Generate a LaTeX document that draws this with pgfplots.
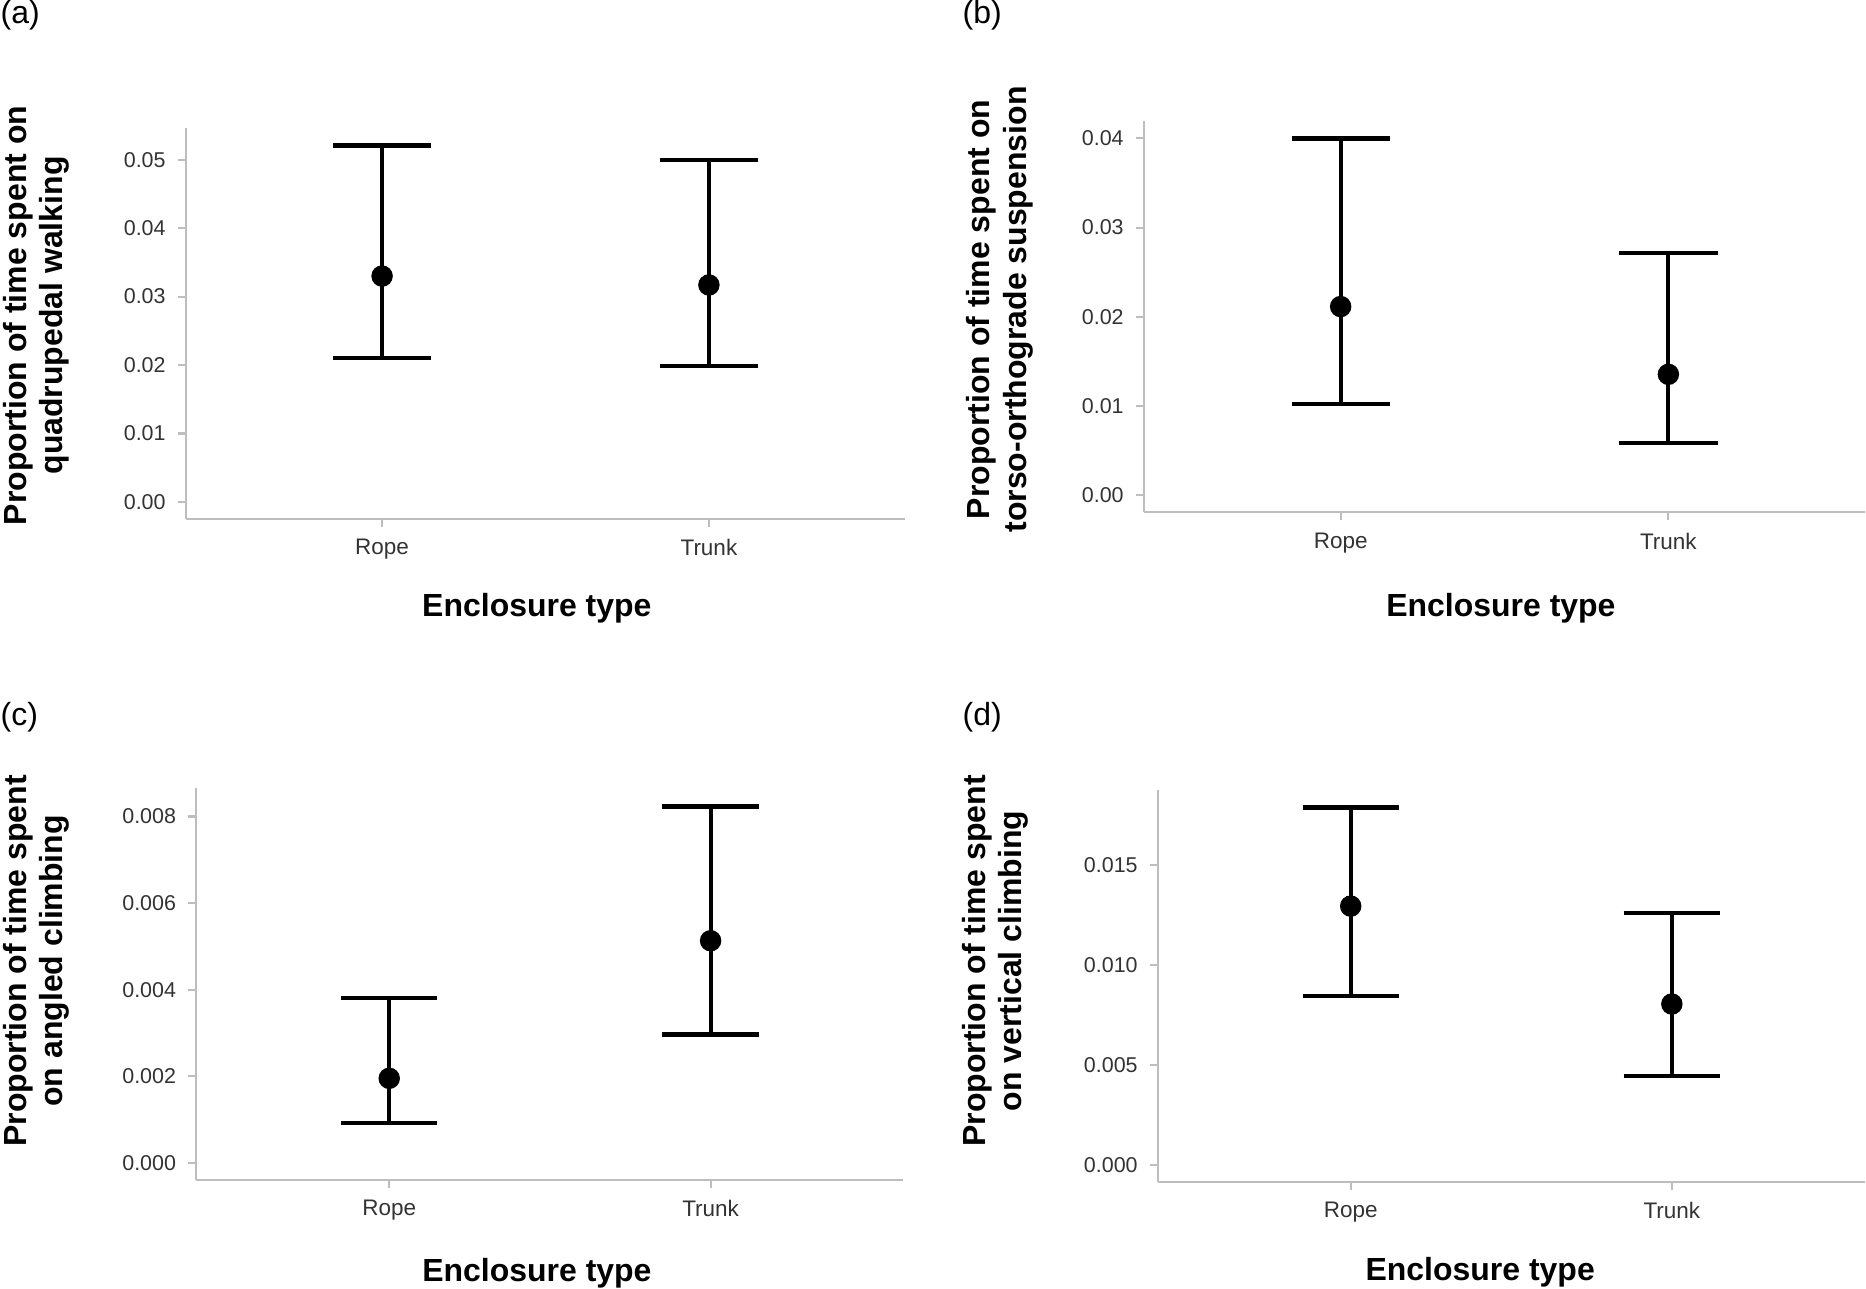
\documentclass[border=0pt]{standalone}
\usepackage{fontspec}
\setmainfont{Liberation Sans}
\usepackage{pgfplots}
\pgfplotsset{compat=1.18}
\definecolor{axgray}{HTML}{BEBEBE}
\definecolor{ticktext}{HTML}{333333}
\pgfplotsset{
  panel/.style={
    scale only axis,
    axis lines=left,
    axis line style={-, draw=axgray, line width=0.6pt},
    xmin=0.4, xmax=2.6,
    xtick={1,2}, xticklabels={Rope,Trunk},
    tick align=outside,
    major tick length=0.08cm,
    tick style={draw=axgray, line width=0.6pt},
    yticklabel style={font=\fontsize{6.1}{7}\selectfont, text=ticktext},
    xticklabel style={font=\fontsize{6.4}{7}\selectfont, text=ticktext},
    scaled y ticks=false,
    label style={font=\fontsize{9.1}{10.3}\selectfont\bfseries, align=center},
    xlabel={Enclosure type},
    clip=false,
  },
  stem/.style={black, line width=1.15pt, forget plot},
  cap/.style={black, line width=1.25pt, forget plot},
  pt/.style={black, only marks, mark=*, mark size=2.85pt, mark options={fill=black, draw=black}, forget plot},
}
\begin{document}
\begin{tikzpicture}
\path[use as bounding box] (0,0) rectangle (18.66cm,12.88cm);

% (a)
\begin{axis}[panel, at={(1.86cm,7.69cm)}, anchor=south west,
  width=7.19cm, height=3.914cm,
  ymin=-0.0025, ymax=0.0547,
  ytick={0,0.01,0.02,0.03,0.04,0.05},
  yticklabels={0.00,0.01,0.02,0.03,0.04,0.05},
  ylabel={Proportion of time spent on\\quadrupedal walking},
  ylabel style={at={(axis description cs:-0.2086,0.52)}, anchor=center},
  xlabel style={at={(axis description cs:0.488,-0.2496)}, anchor=base}]
\addplot[stem] coordinates {(1,0.0210) (1,0.0521)};
\addplot[cap] coordinates {(0.85,0.0521) (1.15,0.0521)};
\addplot[cap] coordinates {(0.85,0.0210) (1.15,0.0210)};
\addplot[pt] coordinates {(1,0.0330)};
\addplot[stem] coordinates {(2,0.0199) (2,0.0500)};
\addplot[cap] coordinates {(1.85,0.0500) (2.15,0.0500)};
\addplot[cap] coordinates {(1.85,0.0199) (2.15,0.0199)};
\addplot[pt] coordinates {(2,0.0317)};
\end{axis}

% (b)
\begin{axis}[panel, at={(11.44cm,7.757cm)}, anchor=south west,
  width=7.21cm, height=3.909cm,
  ymin=-0.0019, ymax=0.0419,
  ytick={0,0.01,0.02,0.03,0.04},
  yticklabels={0.00,0.01,0.02,0.03,0.04},
  ylabel={Proportion of time spent on\\torso-orthograde suspension},
  ylabel style={at={(axis description cs:-0.2,0.519)}, anchor=center},
  xlabel style={at={(axis description cs:0.495,-0.267)}, anchor=base}]
\addplot[stem] coordinates {(1,0.01025) (1,0.0400)};
\addplot[cap] coordinates {(0.85,0.0400) (1.15,0.0400)};
\addplot[cap] coordinates {(0.85,0.01025) (1.15,0.01025)};
\addplot[pt] coordinates {(1,0.02115)};
\addplot[stem] coordinates {(2,0.00589) (2,0.02713)};
\addplot[cap] coordinates {(1.85,0.02713) (2.15,0.02713)};
\addplot[cap] coordinates {(1.85,0.00589) (2.15,0.00589)};
\addplot[pt] coordinates {(2,0.01356)};
\end{axis}

% (c)
\begin{axis}[panel, at={(1.964cm,1.08cm)}, anchor=south west,
  width=7.07cm, height=3.92cm,
  ymin=-0.0004, ymax=0.00866,
  ytick={0,0.002,0.004,0.006,0.008},
  yticklabels={0.000,0.002,0.004,0.006,0.008},
  ylabel={Proportion of time spent\\on angled climbing},
  ylabel style={at={(axis description cs:-0.227,0.559)}, anchor=center},
  xlabel style={at={(axis description cs:0.4816,-0.2577)}, anchor=base}]
\addplot[stem] coordinates {(1,0.00092) (1,0.0038)};
\addplot[cap] coordinates {(0.85,0.0038) (1.15,0.0038)};
\addplot[cap] coordinates {(0.85,0.00092) (1.15,0.00092)};
\addplot[pt] coordinates {(1,0.00195)};
\addplot[stem] coordinates {(2,0.00296) (2,0.00823)};
\addplot[cap] coordinates {(1.85,0.00823) (2.15,0.00823)};
\addplot[cap] coordinates {(1.85,0.00296) (2.15,0.00296)};
\addplot[pt] coordinates {(2,0.00513)};
\end{axis}

% (d)
\begin{axis}[panel, at={(11.58cm,1.06cm)}, anchor=south west,
  width=7.065cm, height=3.92cm,
  ymin=-0.00085, ymax=0.01873,
  ytick={0,0.005,0.010,0.015},
  yticklabels={0.000,0.005,0.010,0.015},
  ylabel={Proportion of time spent\\on vertical climbing},
  ylabel style={at={(axis description cs:-0.23,0.564)}, anchor=center},
  xlabel style={at={(axis description cs:0.456,-0.25)}, anchor=base}]
\addplot[stem] coordinates {(1,0.00845) (1,0.01785)};
\addplot[cap] coordinates {(0.85,0.01785) (1.15,0.01785)};
\addplot[cap] coordinates {(0.85,0.00845) (1.15,0.00845)};
\addplot[pt] coordinates {(1,0.01293)};
\addplot[stem] coordinates {(2,0.00445) (2,0.01258)};
\addplot[cap] coordinates {(1.85,0.01258) (2.15,0.01258)};
\addplot[cap] coordinates {(1.85,0.00445) (2.15,0.00445)};
\addplot[pt] coordinates {(2,0.00804)};
\end{axis}

\node[anchor=north west, inner sep=0pt, font=\fontsize{9.1}{10}\selectfont] at (0cm,12.88cm) {(a)};
\node[anchor=north west, inner sep=0pt, font=\fontsize{9.1}{10}\selectfont] at (9.62cm,12.88cm) {(b)};
\node[anchor=north west, inner sep=0pt, font=\fontsize{9.1}{10}\selectfont] at (0cm,5.86cm) {(c)};
\node[anchor=north west, inner sep=0pt, font=\fontsize{9.1}{10}\selectfont] at (9.62cm,5.86cm) {(d)};
\end{tikzpicture}
\end{document}
